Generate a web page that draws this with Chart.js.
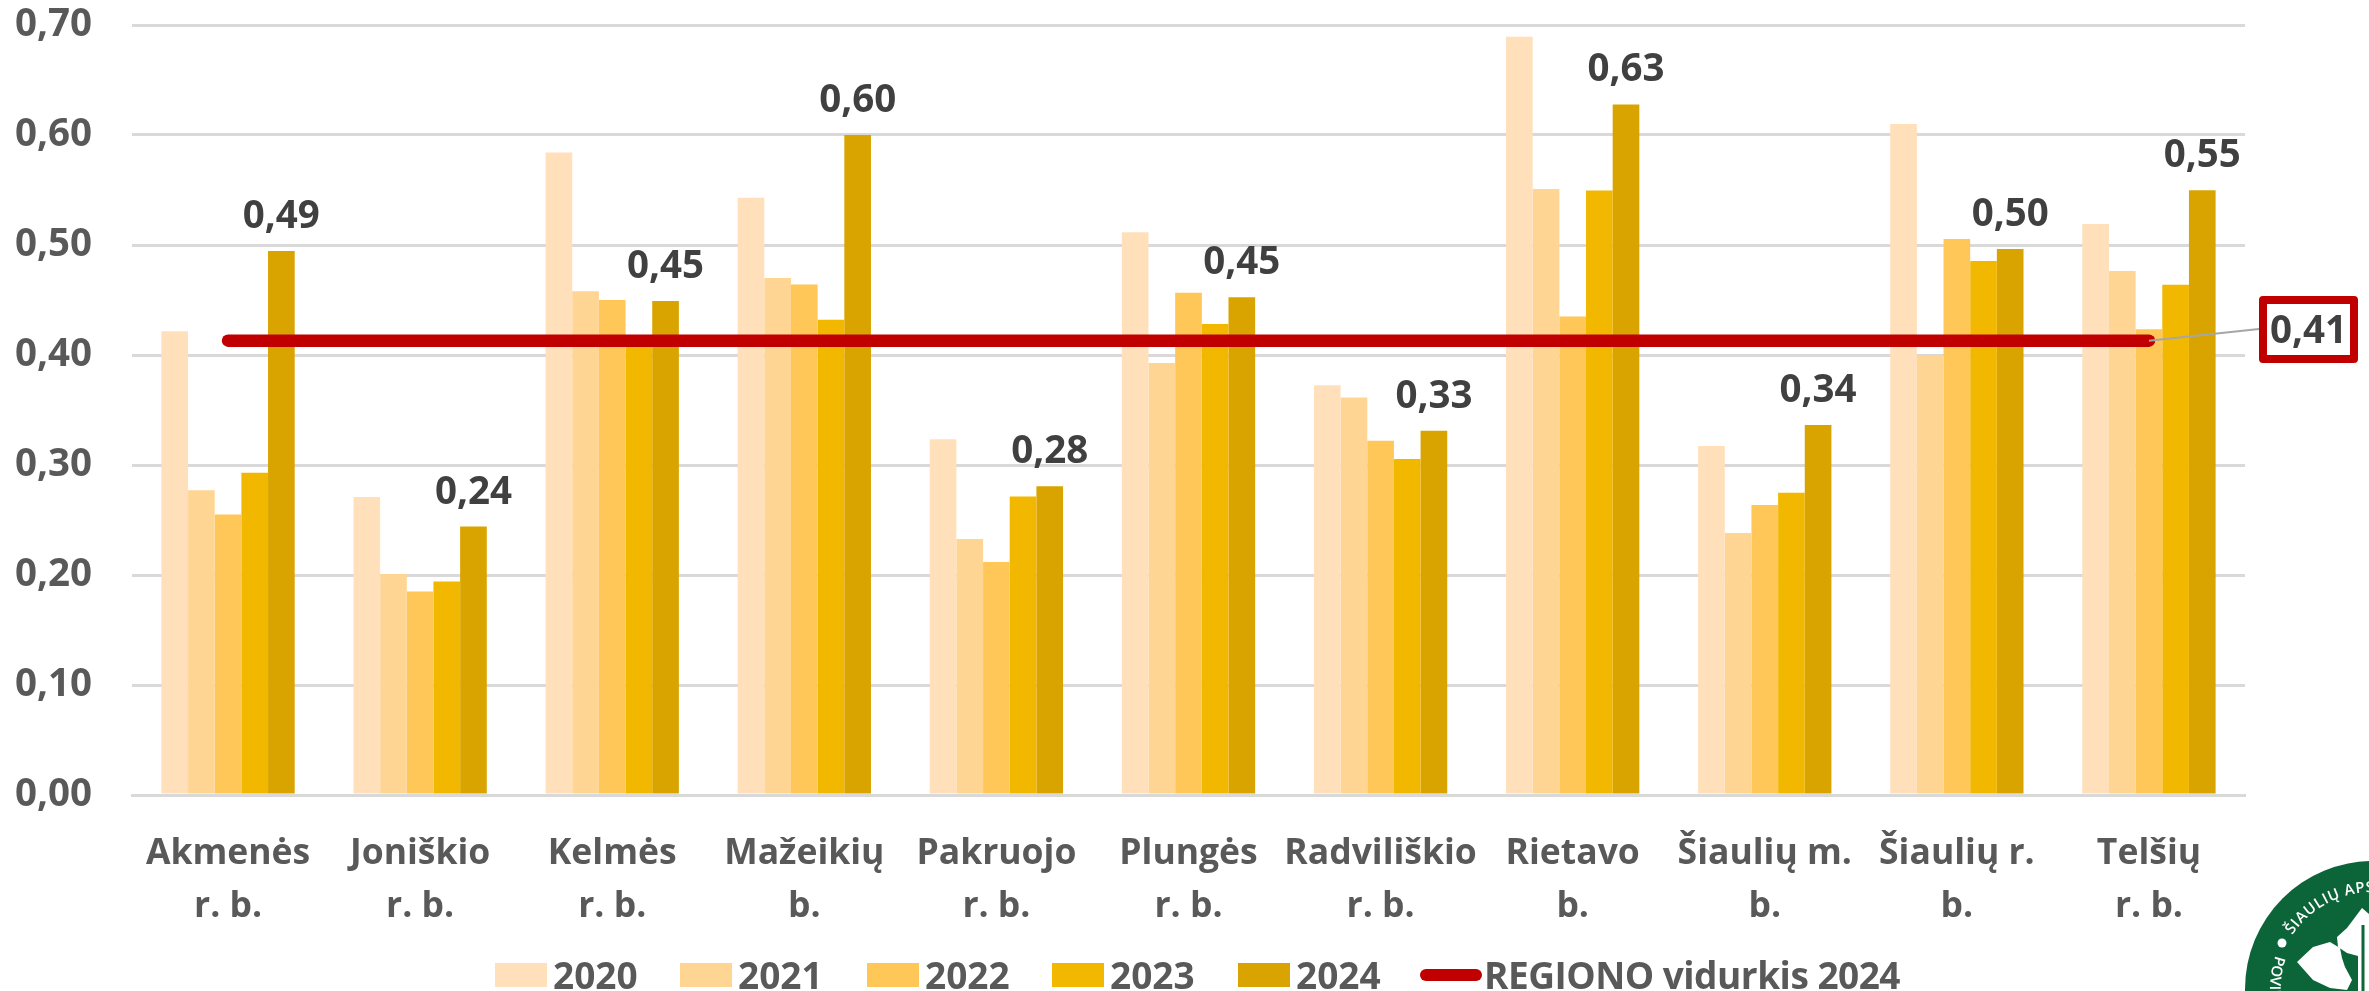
<!DOCTYPE html>
<html>
<head>
<meta charset="utf-8">
<title>Rodiklis pagal savivaldybes</title>
<script src="https://cdn.jsdelivr.net/npm/chart.js@4"></script>
<style>
html,body{margin:0;padding:0;background:#fff;overflow:hidden}
#wrap{position:relative;width:2369px;height:991px;font-family:"Open Sans",sans-serif}
#chart{position:absolute;left:0;top:0}
.lg{position:absolute;top:950px;height:50px;line-height:50px;font-size:37px;font-weight:700;color:#595959;white-space:nowrap}
.sw{position:absolute;top:963px;height:24px}
#logo{position:absolute;left:2230px;top:850px}
</style>
</head>
<body>
<div id="wrap">
<canvas id="chart" width="2369" height="991"></canvas>
<div id="legend"></div>
<svg id="logo" width="139" height="141" viewBox="2230 850 139 141">
<defs>
<path id="ringTop" d="M 2276 989 A 97 97 0 0 1 2373 892 A 97 97 0 0 1 2470 989"></path>
<path id="ringBottom" d="M 2276.2 953.8 A 103 103 0 0 0 2321.5 1078"></path>
</defs>
<circle cx="2373" cy="989" r="128" fill="#0b6539"></circle>
<text font-family="Open Sans" font-size="15" font-weight="600" fill="#fff" letter-spacing="0.7"><textPath href="#ringTop" startOffset="57">ŠIAULIŲ APSKRITIES</textPath></text>
<text font-family="Open Sans" font-size="15" font-weight="600" fill="#fff"><textPath href="#ringBottom" startOffset="2">POVIETAS</textPath></text>
<circle cx="2282" cy="943" r="4.5" fill="#fff"></circle>
<path fill="#fff" d="M2297 962 L2313 947 L2330 942 L2340 948 L2342 958 L2345 967 L2352 980 L2347 990 L2330 988 L2313 980 Z"></path>
<path fill="#fff" d="M2362 908 L2347 928 L2337 937 L2338 947 L2347 953 L2358 956 L2358 991 L2369 991 L2369 914 Z"></path>
<path d="M2363 925 L2363 991" stroke="#0b6539" stroke-width="3" fill="none"></path>
</svg>
</div>
<script>
const categories=[["Akmenės","r. b."],["Joniškio","r. b."],["Kelmės","r. b."],["Mažeikių","b."],["Pakruojo","r. b."],["Plungės","r. b."],["Radviliškio","r. b."],["Rietavo","b."],["Šiaulių m.","b."],["Šiaulių r.","b."],["Telšių","r. b."]];
const values2020=[0.4215,0.271,0.584,0.543,0.3235,0.5117,0.3725,0.6894,0.3173,0.61,0.5191];
const values2021=[0.277,0.201,0.458,0.47,0.2327,0.3927,0.3614,0.551,0.2382,0.3994,0.4764];
const values2022=[0.255,0.185,0.45,0.464,0.2118,0.4567,0.322,0.4351,0.2636,0.5055,0.4233];
const values2023=[0.293,0.194,0.414,0.432,0.2713,0.4282,0.3054,0.5496,0.2748,0.4855,0.4639];
const values2024=[0.4945,0.244,0.449,0.6,0.2807,0.4525,0.3311,0.6278,0.3364,0.4964,0.5497];
const regionAvg=[0.413,0.413,0.413,0.413,0.413,0.413,0.413,0.413,0.413,0.413,0.413];
const regionLabel="0,41";

const barColors=["#ffe0ba","#ffd594","#ffc658","#f2b800","#d9a400"];
const years=["2020","2021","2022","2023","2024"];
const allValues=[values2020,values2021,values2022,values2023,values2024];
const comma=v=>v.toFixed(2).replace(".",",");

// labels over the 2024 bars and the boxed regional value
const extras={
id:"extras",
afterDatasetsDraw(chart){
const ctx=chart.ctx;
ctx.save();
ctx.font='700 38.5px "Open Sans"';
ctx.fillStyle="#404040";
ctx.textAlign="center";
ctx.textBaseline="alphabetic";
chart.getDatasetMeta(4).data.forEach((bar,i)=>{
ctx.fillText(comma(values2024[i]),bar.x,bar.y-23);
});
const end=chart.getDatasetMeta(5).data[10];
ctx.strokeStyle="#a6a6a6";
ctx.lineWidth=2;
ctx.beginPath();
ctx.moveTo(end.x,end.y);
ctx.lineTo(2259,329);
ctx.stroke();
ctx.fillStyle="#fff";
ctx.strokeStyle="#c00000";
ctx.lineWidth=8;
ctx.lineJoin="round";
ctx.beginPath();
ctx.rect(2263,300,91,59);
ctx.fill();
ctx.stroke();
ctx.fillStyle="#404040";
ctx.fillText(regionLabel,2308.5,343);
ctx.restore();
}
};

const datasets=years.map((y,i)=>({
label:y,
data:allValues[i],
backgroundColor:barColors[i],
barPercentage:1,
categoryPercentage:0.694,
order:1
}));
datasets.push({
type:"line",
label:"REGIONO vidurkis 2024",
data:regionAvg,
borderColor:"#c00000",
borderWidth:12.5,
borderCapStyle:"round",
pointRadius:0,
order:0
});

new Chart(document.getElementById("chart"),{
type:"bar",
data:{labels:categories,datasets:datasets},
plugins:[extras],
options:{
responsive:false,
animation:false,
layout:{padding:{top:0,right:124,left:0,bottom:0}},
plugins:{legend:{display:false},tooltip:{enabled:false}},
scales:{
x:{
grid:{display:false},
border:{color:"#d9d9d9",width:3},
afterFit(s){s.height=196},
ticks:{
color:"#595959",
font:{family:"Open Sans",size:35.5,weight:"700",lineHeight:1.5},
padding:24,
maxRotation:0,
autoSkip:false
}
},
y:{
min:0,max:0.7,
afterFit(s){s.width=132;s.paddingTop=25},
grid:{color:"#d9d9d9",lineWidth:3,drawTicks:false},
border:{display:false},
ticks:{
stepSize:0.1,
color:"#595959",
padding:40,
font:{family:"Open Sans",size:38.5,weight:"700"},
callback:v=>comma(v)
}
}
}
}
});

// legend row, built from the same series
const legend=document.getElementById("legend");
const swatchX=[495,680,867,1052,1238];
years.forEach((y,i)=>{
legend.insertAdjacentHTML("beforeend",
`<div class="sw" style="left:${swatchX[i]}px;width:52px;background:${barColors[i]}"></div>`+
`<div class="lg" style="left:${swatchX[i]+58}px">${y}</div>`);
});
legend.insertAdjacentHTML("beforeend",
`<div class="sw" style="left:1420px;width:62px;top:969px;height:12px;border-radius:6px;background:#c00000"></div>`+
`<div class="lg" style="left:1484px;letter-spacing:-0.5px">REGIONO vidurkis 2024</div>`);
</script>
</body>
</html>
